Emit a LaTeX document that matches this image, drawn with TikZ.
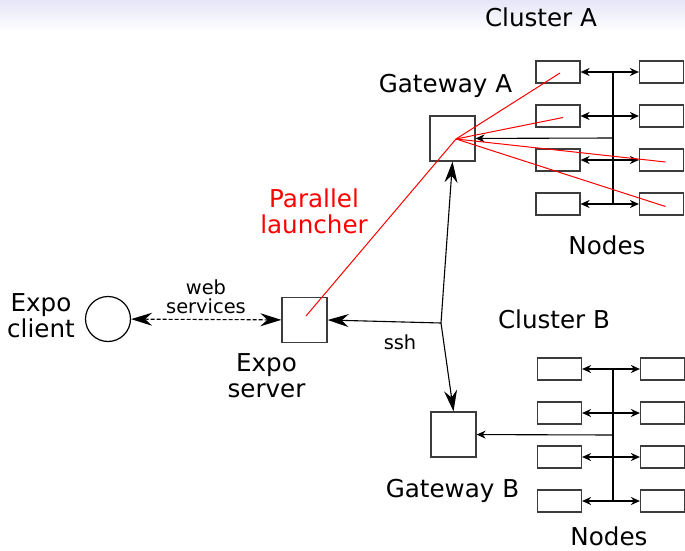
\documentclass[tikz,border=0pt]{standalone}
\usepackage{fontspec}
\setmainfont{DejaVu Sans}
\usetikzlibrary{arrows.meta,positioning,calc}
\definecolor{boxgray}{RGB}{60,60,60}
\definecolor{topband}{RGB}{230,230,248}

\begin{document}
\begin{tikzpicture}[x=1pt, y=-1pt,
    big/.style={font=\fontsize{24.6}{26}\selectfont, align=center, inner sep=0pt},
    small/.style={font=\fontsize{19.4}{19.5}\selectfont, align=center, inner sep=0pt},
    gw/.style={draw=boxgray, line width=1.3pt, minimum size=45pt, inner sep=0pt},
    cnode/.style={draw=boxgray, line width=1.2pt, minimum width=44pt,
                  minimum height=22pt, inner sep=0pt},
    bigarr/.style={-{Stealth[length=21pt, width=13pt, inset=7pt]}, line width=1.1pt},
    busarr/.style={{Stealth[length=9pt, width=8pt]}-{Stealth[length=9pt, width=8pt]},
                   line width=1.1pt},
    lnch/.style={red, line width=1pt}
  ]
  \useasboundingbox (0,0) rectangle (685,551);
  \shade[top color=topband, bottom color=white] (0,0) rectangle (685,32);

  % client, server and gateways
  \node[circle, draw, line width=1.2pt, minimum size=45pt, inner sep=0pt] (cli) at (108,319) {};
  \node[gw] (srv) at (304.5,320) {};
  \node[gw] (gwA) at (452.5,138.5) {};
  \node[gw] (gwB) at (453.5,434.5) {};

  \node[big] (cliT) at (41,316) {Expo\\client};
  \node[big, below=10pt of srv, xshift=-38pt] (srvT) {Expo\\server};
  \node[big, above=18pt of gwA, xshift=-7pt] (gwAT) {Gateway A};
  \node[big, below=21pt of gwB, xshift=-1pt] (gwBT) {Gateway B};
  \node[big] (clA) at (541,17) {Cluster A};
  \node[big] (clB) at (554,319) {Cluster B};
  \node[big] (ndA) at (607,245) {Nodes};
  \node[big] (ndB) at (609,536) {Nodes};
  \node[big, red] (plT) at (314,211) {Parallel\\launcher};
  \node[small] (wsT) at (206,297) {web\\services};
  \node[small] (sshT) at (400,342) {ssh};

  % cluster A
  \coordinate (busA) at (613,138);
  \foreach \i/\y in {1/72,2/116,3/160,4/204}{
    \node[cnode] (a\i) at (558,\y) {};
    \node[cnode] (b\i) at (661.5,\y) {};
    \draw[busarr] (a\i) -- (b\i);
  }
  \draw[line width=1.1pt] (a1 -| busA) -- (a4 -| busA);
  \draw[-{Stealth[length=9pt, width=8pt]}, line width=1.1pt] (busA) -- (gwA);

  % cluster B
  \coordinate (busB) at (613,435);
  \foreach \i/\y in {1/369,2/413,3/457,4/501}{
    \node[cnode] (c\i) at (559.5,\y) {};
    \node[cnode] (d\i) at (662.5,\y) {};
    \draw[busarr] (c\i) -- (d\i);
  }
  \draw[line width=1.1pt] (c1 -| busB) -- (c4 -| busB);
  \draw[-{Stealth[length=9pt, width=8pt]}, line width=1.1pt] (busB) -- (gwB);

  % ssh and web services
  \coordinate (sshJ) at (441,323);
  \draw[bigarr] (sshJ) -- (srv.east);
  \draw[bigarr] (sshJ) -- (gwA.south);
  \draw[bigarr] (sshJ) -- (gwB.north);
  \draw[bigarr, {Stealth[length=21pt, width=13pt, inset=7pt]}-{Stealth[length=21pt, width=13pt, inset=7pt]},
        dash pattern=on 4pt off 2pt] (cli) -- (srv);

  % parallel launcher
  \coordinate (lnchA) at (456,139);
  \draw[lnch] (lnchA) -- ($(a1)+(2,1)$);
  \draw[lnch] (lnchA) -- ($(a2)+(5,1.5)$);
  \draw[lnch] (lnchA) -- ($(b3)+(4,2)$);
  \draw[lnch] (lnchA) -- ($(b4)+(4,2.5)$);
  \draw[lnch] (lnchA) -- ($(srv)+(1.5,-4)$);
\end{tikzpicture}
\end{document}
